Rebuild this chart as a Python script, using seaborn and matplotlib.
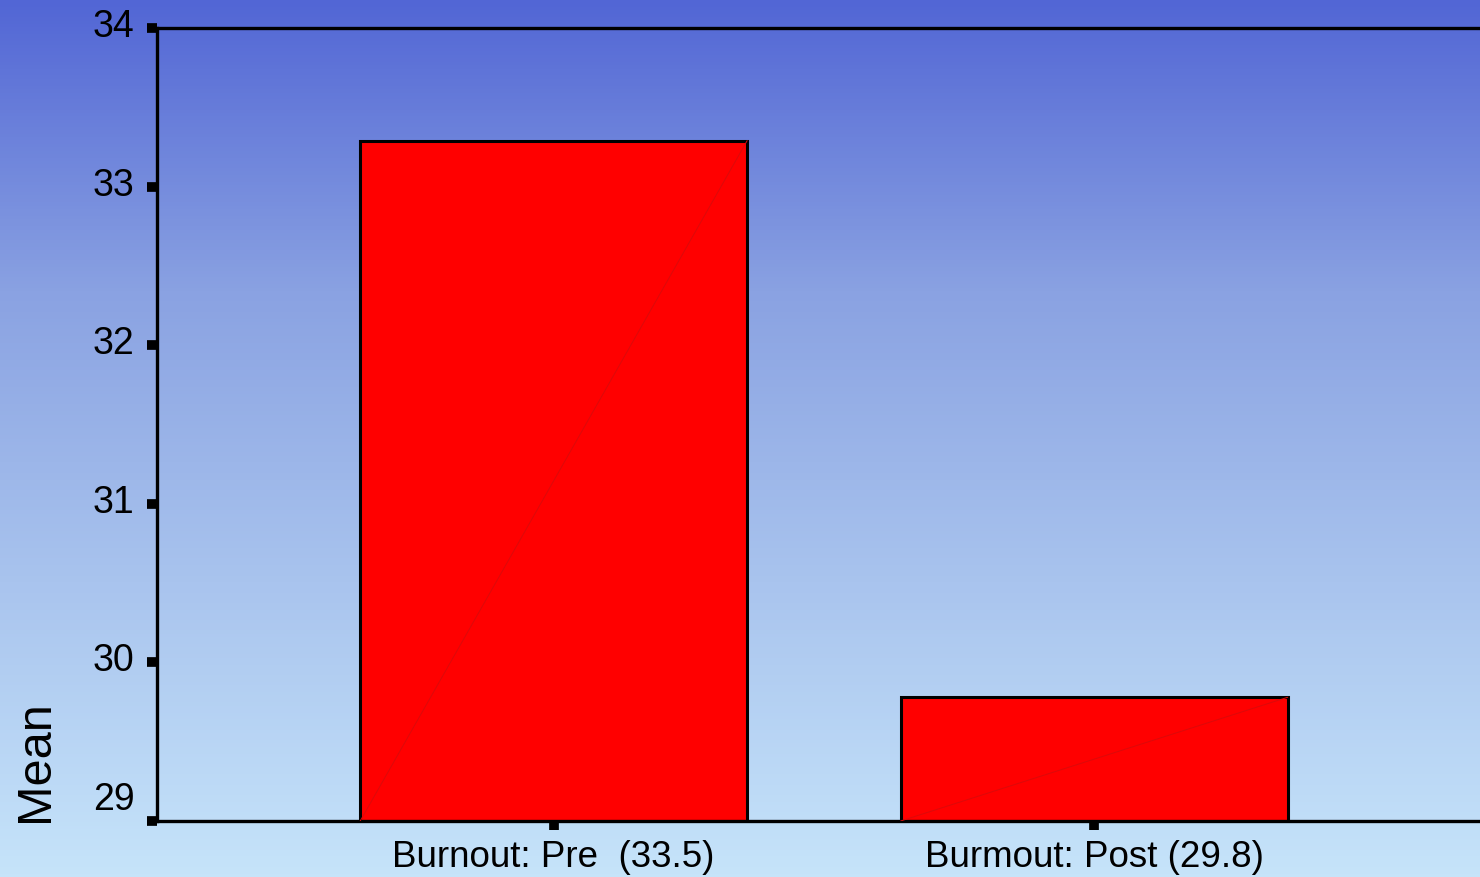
import numpy as np
import seaborn as sns
import matplotlib.pyplot as plt
import matplotlib.transforms as mtransforms
from matplotlib.colors import LinearSegmentedColormap

# data
categories = ["Burnout: Pre  (33.5)", "Burmout: Post (29.8)"]
means = [33.29, 29.78]
y_ticks = [29, 30, 31, 32, 33, 34]

sns.set_style("white")
plt.rcParams["font.family"] = ["Liberation Sans", "DejaVu Sans"]
plt.rcParams["text.color"] = "black"
plt.rcParams["axes.labelcolor"] = "black"
plt.rcParams["xtick.labelcolor"] = "black"
plt.rcParams["ytick.labelcolor"] = "black"

fig = plt.figure(figsize=(14.8, 8.77), dpi=100)

# blue gradient background over the whole figure
bg = fig.add_axes([0, 0, 1, 1], zorder=0)
grad = LinearSegmentedColormap.from_list(
    "bg", ["#c6e4fa", "#a9c4ee", "#8aa2e2", "#5266d5"])
bg.imshow(np.linspace(0, 1, 256).reshape(-1, 1), aspect="auto",
          cmap=grad, origin="lower", extent=[0, 1, 0, 1])
bg.set_axis_off()

ax = fig.add_axes([157 / 1480, 1 - 821 / 877, 1 - 157 / 1480, (821 - 28) / 877],
                  zorder=1)
ax.patch.set_alpha(0)

sns.barplot(x=categories, y=means, color="#ff0000", saturation=1,
            width=0.716, edgecolor="black", linewidth=2.2, ax=ax)

ax.set_xlim(-0.734, 1.714)
ax.set_ylim(29, 34)
ax.set_yticks(y_ticks)

# faint diagonal in each bar, as in the original export
ybot = ax.get_ylim()[0]
for p in ax.patches:
    x0, w, h = p.get_x(), p.get_width(), p.get_height()
    ax.plot([x0, x0 + w], [ybot, h], color="#dc0a0a", lw=0.7, zorder=3)

for side in ["left", "bottom", "top"]:
    ax.spines[side].set_visible(True)
    ax.spines[side].set_color("black")
    ax.spines[side].set_linewidth(2.4)
ax.spines["right"].set_visible(False)

ax.tick_params(axis="y", direction="out", length=7, width=7, color="black",
               pad=9, labelsize=27, left=True)
ax.tick_params(axis="x", direction="out", length=6.5, width=7, color="black",
               pad=7, labelsize=26.5, bottom=True)

# y labels sit a bit above their ticks, the lowest one clearly above
for lab, val in zip(ax.get_yticklabels(), y_ticks):
    dy = 25 if val == 29 else 5
    off = mtransforms.ScaledTranslation(0, dy / 100, fig.dpi_scale_trans)
    lab.set_transform(lab.get_transform() + off)

ax.set_ylabel("Mean", fontsize=35)
ax.yaxis.set_label_coords(-0.075, 0.075)

fig.savefig("out.png", dpi=100)
